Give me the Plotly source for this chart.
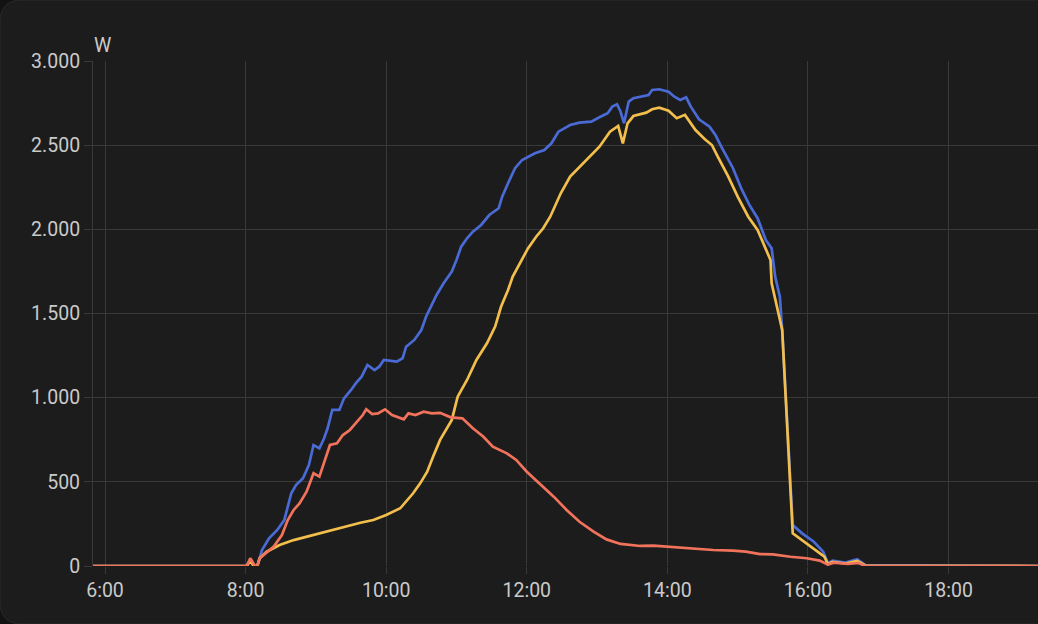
import plotly.graph_objects as go

DAY = "2024-06-01 "

# ---- data (time "HH:MM", watts) ----
blue_t = ["05:49","08:01","08:04","08:07","08:10","08:14","08:20","08:27","08:33","08:39","08:43","08:49","08:54","08:58","09:03","09:07","09:10","09:14","09:20","09:24","09:30","09:34","09:39","09:44","09:50","09:54","09:58","10:09","10:14","10:17","10:24","10:30","10:34","10:43","10:49","10:56","11:00","11:04","11:09","11:14","11:21","11:28","11:36","11:39","11:44","11:50","11:56","12:07","12:15","12:21","12:27","12:37","12:45","12:55","13:02","13:09","13:13","13:17","13:20","13:23","13:27","13:31","13:44","13:47","13:53","14:01","14:06","14:11","14:16","14:20","14:27","14:36","14:41","14:46","14:56","15:03","15:10","15:17","15:24","15:29","15:32","15:36","15:38","15:47","15:55","16:05","16:13","16:17","16:21","16:32","16:42","16:49","19:20"]
blue_v = [0,0,40,0,0,95,165,214,273,432,481,521,600,719,699,759,818,927,927,996,1046,1085,1125,1194,1164,1184,1224,1214,1234,1303,1343,1402,1481,1610,1680,1749,1818,1897,1947,1986,2026,2085,2125,2194,2274,2363,2412,2452,2471,2511,2580,2620,2634,2640,2666,2690,2729,2743,2700,2630,2759,2779,2798,2828,2832,2818,2788,2769,2784,2729,2654,2610,2561,2491,2363,2244,2145,2066,1937,1887,1719,1600,1402,243,194,144,85,16,32,20,40,5,0]

yellow_t = ["05:49","08:01","08:04","08:07","08:10","08:12","08:18","08:29","08:41","08:52","09:03","09:15","09:26","09:38","09:49","10:00","10:12","10:17","10:23","10:29","10:35","10:40","10:46","10:56","11:01","11:09","11:17","11:26","11:33","11:38","11:44","11:48","11:54","12:01","12:08","12:14","12:20","12:29","12:37","12:45","12:54","13:02","13:11","13:18","13:22","13:26","13:31","13:42","13:47","13:53","14:01","14:08","14:15","14:24","14:32","14:38","14:43","14:52","15:00","15:09","15:17","15:23","15:28","15:29","15:35","15:38","15:47","15:55","16:05","16:14","16:17","16:21","16:32","16:42","16:49","19:20"]
yellow_v = [0,0,30,0,0,46,85,125,154,174,194,214,238,257,273,303,343,382,432,491,560,649,749,868,1006,1105,1224,1323,1422,1540,1640,1719,1798,1887,1956,2006,2075,2214,2313,2372,2432,2491,2580,2614,2511,2630,2673,2693,2713,2723,2705,2660,2680,2590,2535,2501,2432,2313,2194,2075,1996,1897,1818,1679,1501,1402,194,154,105,55,12,25,15,30,3,0]

red_t = ["05:49","08:01","08:04","08:08","08:10","08:12","08:17","08:24","08:31","08:36","08:41","08:46","08:52","08:58","09:03","09:08","09:12","09:18","09:23","09:29","09:35","09:40","09:43","09:48","09:53","09:59","10:05","10:15","10:19","10:25","10:32","10:39","10:46","10:55","11:05","11:14","11:23","11:31","11:43","11:51","12:00","12:11","12:23","12:34","12:45","12:57","13:08","13:20","13:37","13:48","14:05","14:22","14:39","14:56","15:07","15:19","15:30","15:45","15:59","16:10","16:17","16:22","16:34","16:43","16:49","19:20"]
red_v = [0,0,46,0,0,46,75,115,184,273,333,372,441,551,531,630,719,729,778,808,857,897,931,903,907,931,897,871,907,897,917,907,910,883,877,818,768,709,669,630,560,491,412,333,263,204,158,131,119,121,111,105,95,91,85,71,69,55,46,32,8,20,12,18,0,0]

x_ticks = ["06:00","08:00","10:00","12:00","14:00","16:00","18:00"]
x_ticktext = ["6:00","8:00","10:00","12:00","14:00","16:00","18:00"]
y_ticks = [0, 500, 1000, 1500, 2000, 2500, 3000]
y_ticktext = ["0", "500", "1.000", "1.500", "2.000", "2.500", "3.000"]
unit = "W"

series = [
    (blue_t, blue_v, "#4a6bd6"),
    (yellow_t, yellow_v, "#f2be4c"),
    (red_t, red_v, "#f2735c"),
]

BG = "#1c1c1c"
GRID = "#393939"
TXT = "#cacaca"
FONT = "Roboto"

fig = go.Figure()
for t, v, c in series:
    fig.add_trace(go.Scatter(
        x=[DAY + s for s in t], y=v, mode="lines",
        line=dict(color=c, width=2.7), hoverinfo="skip", showlegend=False))

W, H = 1038, 624
ml, mr, mt, mb = 93, 0, 61, 58
pw, ph = W - ml - mr, H - mt - mb

def px(x):
    return (x - ml) / pw

def py(y):
    return (H - mb - y) / ph

r = 22
path = (f"M {px(0)},{py(r)} Q {px(0)},{py(0)} {px(r)},{py(0)} "
        f"L {px(W+5)},{py(0)} L {px(W+5)},{py(H)} L {px(r)},{py(H)} "
        f"Q {px(0)},{py(H)} {px(0)},{py(H-r)} Z")

fig.update_layout(
    width=W, height=H,
    margin=dict(l=ml, r=mr, t=mt, b=mb),
    paper_bgcolor="#121212",
    plot_bgcolor="rgba(0,0,0,0)",
    font=dict(family=FONT, size=19.5, color=TXT),
    shapes=[dict(type="path", xref="paper", yref="paper", path=path,
                 fillcolor=BG, line=dict(color="#2a2a2a", width=1), layer="below")],
    xaxis=dict(
        type="date",
        range=[DAY + "05:49:45", DAY + "19:16:20"],
        tickvals=[DAY + s for s in x_ticks], ticktext=x_ticktext,
        showgrid=True, gridcolor=GRID, gridwidth=1,
        ticks="outside", ticklen=7, tickcolor=GRID,
        showline=False, zeroline=False,
        tickfont=dict(family=FONT, size=19.5, color=TXT),
    ),
    yaxis=dict(
        range=[0, 3000],
        tickvals=y_ticks, ticktext=y_ticktext,
        showgrid=True, gridcolor=GRID, gridwidth=1,
        ticks="outside", ticklen=8, tickcolor=GRID,
        showline=True, linecolor=GRID, linewidth=1,
        zeroline=False,
        tickfont=dict(family=FONT, size=19.5, color=TXT),
    ),
    annotations=[dict(text=unit, xref="paper", yref="paper", x=0, y=1,
                      xanchor="left", yanchor="bottom", yshift=2, xshift=-1,
                      showarrow=False, font=dict(family=FONT, size=19.5, color=TXT))],
)

fig.write_html(
    "out.html",
    config={"displayModeBar": False},
    post_script="document.body.style.margin='0';document.body.style.padding='0';"
                "document.body.style.overflow='hidden';document.body.style.background='#121212';",
)
